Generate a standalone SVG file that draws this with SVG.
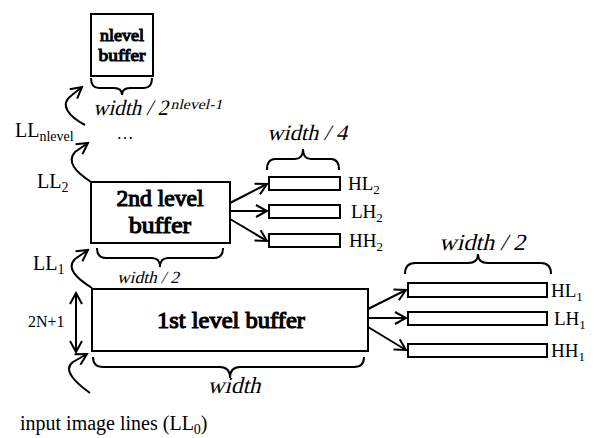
<svg xmlns="http://www.w3.org/2000/svg" width="594" height="438" viewBox="0 0 594 438">
  <style>
    .box { fill: #fff; stroke: #000; stroke-width: 2; }
    .band { fill: #fff; stroke: #000; stroke-width: 2; }
    .brace { fill: none; stroke: #000; stroke-width: 2; }
    .wire { fill: none; stroke: #000; stroke-width: 2; }
    /* heavy serif lettering: regular face thickened with an outline */
    .title { font-family: "Liberation Serif", "Times New Roman", serif; text-anchor: middle; fill: #000; stroke: #000; stroke-width: 1.1; }
    .lbl { font-family: "Liberation Serif", "Times New Roman", serif; fill: #000; }
    /* slanted serif lettering, sloped with skewX on each label */
    .dim { font-family: "Liberation Serif", "Times New Roman", serif; fill: #000; }
  </style>
  <defs>
    <marker id="open" viewBox="0 0 14 14" markerUnits="userSpaceOnUse" markerWidth="14" markerHeight="14" refX="12" refY="7" orient="auto">
      <path d="M1,1 L12,7 L1,13" fill="none" stroke="#000" stroke-width="2"/>
    </marker>
    <marker id="openStart" viewBox="0 0 14 14" markerUnits="userSpaceOnUse" markerWidth="14" markerHeight="14" refX="12" refY="7" orient="auto-start-reverse">
      <path d="M1,1 L12,7 L1,13" fill="none" stroke="#000" stroke-width="2"/>
    </marker>
  </defs>

  <!-- buffers -->
  <g id="nlevel-buffer">
    <rect class="box" x="91" y="14" width="62" height="62"/>
    <text class="title" x="122" y="41" font-size="17.5" textLength="44" lengthAdjust="spacingAndGlyphs">nlevel</text>
    <text class="title" x="122" y="61" font-size="17.5" textLength="47" lengthAdjust="spacingAndGlyphs">buffer</text>
  </g>

  <g id="level2-buffer">
    <rect class="box" x="91" y="182" width="139" height="61"/>
    <text class="title" x="160" y="206" font-size="23" textLength="87" lengthAdjust="spacingAndGlyphs">2nd level</text>
    <text class="title" x="160" y="233" font-size="23" textLength="62" lengthAdjust="spacingAndGlyphs">buffer</text>
  </g>

  <g id="level1-buffer">
    <rect class="box" x="92" y="289" width="276" height="62"/>
    <text class="title" x="231" y="328" font-size="23" textLength="148" lengthAdjust="spacingAndGlyphs">1st level buffer</text>
  </g>

  <!-- level 2 sub-bands -->
  <g id="hl2">
    <rect class="band" x="269" y="177" width="71" height="13"/>
    <text class="lbl" x="348" y="190" font-size="19">HL<tspan font-size="13" dy="4">2</tspan></text>
  </g>
  <g id="lh2">
    <rect class="band" x="269" y="205" width="71" height="13"/>
    <text class="lbl" x="351" y="218" font-size="19">LH<tspan font-size="13" dy="4">2</tspan></text>
  </g>
  <g id="hh2">
    <rect class="band" x="269" y="234" width="71" height="13"/>
    <text class="lbl" x="349" y="247" font-size="19">HH<tspan font-size="13" dy="4">2</tspan></text>
  </g>

  <!-- level 1 sub-bands -->
  <g id="hl1">
    <rect class="band" x="408" y="283" width="139" height="14"/>
    <text class="lbl" x="551" y="297" font-size="19">HL<tspan font-size="13" dy="4">1</tspan></text>
  </g>
  <g id="lh1">
    <rect class="band" x="408" y="312" width="139" height="13"/>
    <text class="lbl" x="554" y="325" font-size="19">LH<tspan font-size="13" dy="4">1</tspan></text>
  </g>
  <g id="hh1">
    <rect class="band" x="408" y="344" width="139" height="13"/>
    <text class="lbl" x="551" y="357" font-size="19">HH<tspan font-size="13" dy="4">1</tspan></text>
  </g>

  <!-- width braces and dimension labels -->
  <g id="dimensions">
    <path class="brace" d="M91,78 Q91,88 99,88 L114,88 Q122,88 122,95 Q122,88 130,88 L144,88 Q152,88 152,78"/>
    <g transform="translate(93,115) skewX(-14)">
      <text class="dim" x="0" y="0" font-size="22" textLength="75" lengthAdjust="spacingAndGlyphs">width / 2</text>
      <text class="dim" x="76" y="-6" font-size="14" textLength="52" lengthAdjust="spacingAndGlyphs">nlevel-1</text>
    </g>

    <path class="brace" d="M97,248 Q97,258 106,258 L152,258 Q160,258 160,267 Q160,258 168,258 L214,258 Q223,258 223,248"/>
    <g transform="translate(148,283) skewX(-14)">
      <text class="dim" x="0" y="0" font-size="17" text-anchor="middle" textLength="62" lengthAdjust="spacingAndGlyphs">width / 2</text>
    </g>

    <path class="brace" d="M93,357 Q93,367 103,367 L220,367 Q230,367 230,378 Q230,367 240,367 L354,367 Q364,367 364,357"/>
    <g transform="translate(234,393) skewX(-14)">
      <text class="dim" x="0" y="0" font-size="23" text-anchor="middle" textLength="53" lengthAdjust="spacingAndGlyphs">width</text>
    </g>

    <path class="brace" d="M267,170 Q267,159 275,159 L295,159 Q303,159 303,149 Q303,159 311,159 L331,159 Q339,159 339,170"/>
    <g transform="translate(307,140) skewX(-14)">
      <text class="dim" x="0" y="0" font-size="22" text-anchor="middle" textLength="80" lengthAdjust="spacingAndGlyphs">width / 4</text>
    </g>

    <path class="brace" d="M405,274 Q405,263 415,263 L468,263 Q478,263 478,254 Q478,263 488,263 L541,263 Q551,263 551,274"/>
    <g transform="translate(482,250) skewX(-14)">
      <text class="dim" x="0" y="0" font-size="23" text-anchor="middle" textLength="86" lengthAdjust="spacingAndGlyphs">width / 2</text>
    </g>
  </g>

  <!-- side labels -->
  <g id="labels">
    <text class="lbl" x="15" y="137" font-size="20">LL<tspan font-size="14" dy="4">nlevel</tspan></text>
    <text class="lbl" x="125" y="139" font-size="17" text-anchor="middle">…</text>
    <text class="lbl" x="37" y="188" font-size="20">LL<tspan font-size="14" dy="4">2</tspan></text>
    <text class="lbl" x="33" y="270" font-size="20">LL<tspan font-size="14" dy="4">1</tspan></text>
    <text class="lbl" x="28" y="327" font-size="16">2N+1</text>
    <text class="lbl" x="20" y="430" font-size="20">input image lines (LL<tspan font-size="14" dy="4">0</tspan><tspan dy="-4">)</tspan></text>
  </g>

  <!-- connectors -->
  <g id="connectors">
    <!-- level hand-off curves -->
    <path class="wire" d="M85,125 C70,117 58,105 72,95 L82,87" marker-end="url(#open)"/>
    <path class="wire" d="M91,182 C76,172 66,162 75,152 L88,143" marker-end="url(#open)"/>
    <path class="wire" d="M92,288 C76,278 66,268 75,259 L88,250" marker-end="url(#open)"/>
    <path class="wire" d="M90,393 C76,383 62,370 73,362 L87,354" marker-end="url(#open)"/>

    <!-- 2N+1 height -->
    <line class="wire" x1="76" y1="293" x2="76" y2="352" marker-start="url(#openStart)" marker-end="url(#open)"/>

    <!-- level 2 outputs -->
    <line class="wire" x1="230" y1="203" x2="267" y2="184" marker-end="url(#open)"/>
    <line class="wire" x1="230" y1="211" x2="267" y2="211" marker-end="url(#open)"/>
    <line class="wire" x1="230" y1="219" x2="267" y2="241" marker-end="url(#open)"/>

    <!-- level 1 outputs -->
    <line class="wire" x1="368" y1="309" x2="406" y2="290" marker-end="url(#open)"/>
    <line class="wire" x1="368" y1="318" x2="406" y2="318" marker-end="url(#open)"/>
    <line class="wire" x1="368" y1="327" x2="406" y2="350" marker-end="url(#open)"/>
  </g>
</svg>
